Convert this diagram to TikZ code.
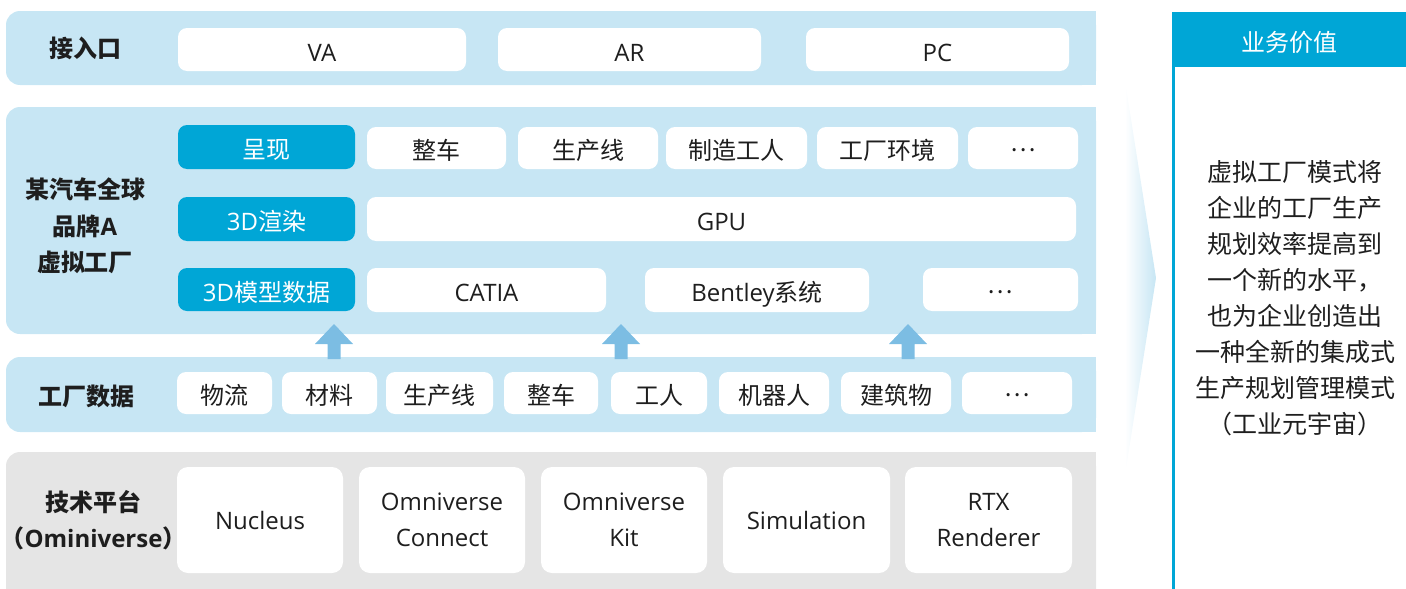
\documentclass[tikz,border=0pt]{standalone}
\usepackage{fontspec}
\setmainfont{Open Sans}
\newfontfamily\cjk{Noto Sans CJK SC}
\newcommand\zh[1]{{\cjk #1}}
\newcommand\middots{\raisebox{8pt}{\zh{…}}}
\usetikzlibrary{calc}
\definecolor{bandblue}{HTML}{C7E6F4}
\definecolor{deepblue}{HTML}{00A6D6}
\definecolor{arrowblue}{HTML}{7CBDE3}
\definecolor{bandgray}{HTML}{E5E5E5}
\definecolor{ink}{HTML}{1E1E1E}
\tikzset{
  cell/.style={fill=white, rounded corners=9pt, inner sep=0pt, outer sep=0pt, text=ink,
    font=\fontsize{24}{36}\selectfont, text height=23pt, text depth=0pt},
  keycell/.style={cell, fill=deepblue, text=white},
  bigcell/.style={fill=white, rounded corners=11pt, inner sep=0pt, outer sep=0pt, text=ink,
    font=\fontsize{24}{36}\selectfont, align=center},
  lbl/.style={font=\fontsize{24}{36.5}\selectfont\bfseries, text=ink, align=center, inner sep=0pt},
  upar/.style={fill=arrowblue},
}
\newcommand\mkbox[7]{\node[#1, minimum width={(#5-#3)*1pt}, minimum height={(#6-#4)*1pt}] (#2) at ({(#3+#5)/2},{(#4+#6)/2}) {#7};}
\newcommand\band[6]{%
  \fill[#1, rounded corners=14pt] (#2,#3) rectangle (#4,#5);
  \fill[#1] (500,#3) rectangle (#4,#5);}
\newcommand\mkarrow[2]{%
  \coordinate (#1) at (#2,359);
  \fill[upar] ($(#1)+(-6.5,0)$) -- ($(#1)+(-6.5,-15)$) -- ($(#1)+(-19,-15)$) -- ($(#1)+(0,-35)$)
    -- ($(#1)+(19,-15)$) -- ($(#1)+(6.5,-15)$) -- ($(#1)+(6.5,0)$) -- cycle;}
\begin{document}
\begin{tikzpicture}[x=1pt,y=-1pt]
\useasboundingbox (0,0) rectangle (1406,589);
\clip (0,0) rectangle (1406,589);
% bands
\band{bandblue}{6}{11}{1096}{85}{}
\band{bandblue}{6}{107}{1096}{334}{}
\band{bandblue}{6}{357}{1096}{432}{}
\band{bandgray}{6}{452}{1096}{620}{}
% row: entry
\node[lbl] (l1) at (85,48) {\zh{\bfseries 接入口}};
\mkbox{cell}{va}{178}{28}{466}{71}{VA}
\mkbox{cell}{ar}{498}{28}{761}{71}{AR}
\mkbox{cell}{pc}{806}{28}{1069}{71}{PC}
% virtual factory
\node[lbl] (l2) at (85,226) {\zh{\bfseries 某汽车全球}\\\zh{\bfseries 品牌}A\\\zh{\bfseries 虚拟工厂}};
\mkbox{keycell}{k1}{178}{125}{355}{169}{\zh{呈现}}
\mkbox{cell}{a1}{367}{127}{506}{169}{\zh{整车}}
\mkbox{cell}{a2}{518}{127}{658}{169}{\zh{生产线}}
\mkbox{cell}{a3}{666}{127}{807}{169}{\zh{制造工人}}
\mkbox{cell}{a4}{817}{127}{958}{169}{\zh{工厂环境}}
\mkbox{cell}{a5}{968}{127}{1078}{169}{\middots}
\mkbox{keycell}{k2}{178}{197}{355}{241}{3D\zh{渲染}}
\mkbox{cell}{b1}{367}{197}{1076}{241}{GPU}
\mkbox{keycell}{k3}{178}{268}{355}{311}{3D\zh{模型数据}}
\mkbox{cell}{c1}{367}{268}{606}{312}{CATIA}
\mkbox{cell}{c2}{645}{268}{869}{312}{Bentley\zh{系统}}
\mkbox{cell}{c3}{923}{268}{1078}{311}{\middots}
% arrows
\mkarrow{p1}{334}
\mkarrow{p2}{621}
\mkarrow{p3}{908}
% factory data
\node[lbl] (l3) at (86,396) {\zh{\bfseries 工厂数据}};
\mkbox{cell}{d1}{177}{372}{272}{414}{\zh{物流}}
\mkbox{cell}{d2}{282}{372}{377}{414}{\zh{材料}}
\mkbox{cell}{d3}{386}{372}{493}{414}{\zh{生产线}}
\mkbox{cell}{d4}{504}{372}{598}{414}{\zh{整车}}
\mkbox{cell}{d5}{611}{372}{707}{414}{\zh{工人}}
\mkbox{cell}{d6}{719}{372}{829}{414}{\zh{机器人}}
\mkbox{cell}{d7}{841}{372}{951}{414}{\zh{建筑物}}
\mkbox{cell}{d8}{962}{372}{1072}{414}{\middots}
% platform
\node[lbl] (l4) at (93.5,520) {\zh{\bfseries 技术平台}\\\zh{（}Ominiverse\zh{）}};
\mkbox{bigcell}{e1}{177}{467}{343}{573}{Nucleus}
\mkbox{bigcell}{e2}{359}{467}{525}{573}{Omniverse\\Connect}
\mkbox{bigcell}{e3}{541}{467}{707}{573}{Omniverse\\Kit}
\mkbox{bigcell}{e4}{723}{467}{890}{573}{Simulation}
\mkbox{bigcell}{e5}{905}{467}{1072}{573}{RTX\\Renderer}
% chevron
\shade[left color=white, right color=bandblue] (1125,81) -- (1156,278) -- (1125,475) -- cycle;
% value panel
\node[fill=deepblue, text=white, inner sep=0pt, minimum width=234pt, minimum height=55pt,
  text height=23pt, text depth=0pt,
  font=\fontsize{24}{30}\selectfont\cjk] (hdr) at (1289,39.5) {业务价值};
\coordinate (pb) at (1173.5,589);
\draw[deepblue, line width=3pt] (hdr.south west -| pb) -- (pb);
\node[text=ink, align=center, inner sep=0pt, font=\fontsize{25}{36}\selectfont\cjk] (val) at (1295,298)
  {虚拟工厂模式将\\企业的工厂生产\\规划效率提高到\\一个新的水平，\\也为企业创造出\\一种全新的集成式\\生产规划管理模式\\（工业元宇宙）};
\end{tikzpicture}
\end{document}
